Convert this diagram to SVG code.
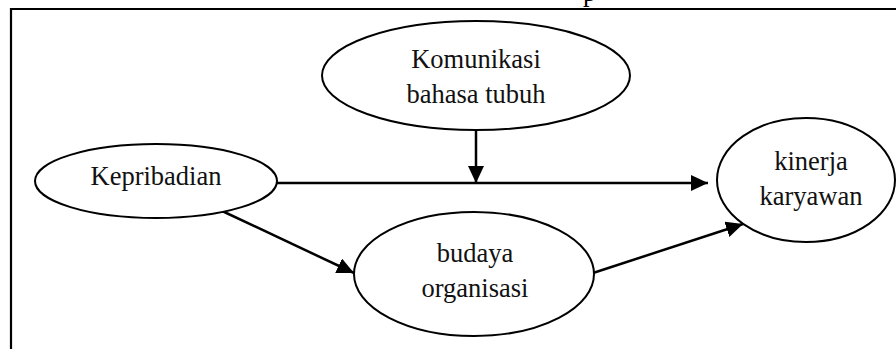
<svg xmlns="http://www.w3.org/2000/svg" width="896" height="349" viewBox="0 0 896 349">
<style>
.node ellipse{fill:#fff;stroke:#000;stroke-width:2}
.node text{font-family:"Liberation Serif","Times New Roman",serif;font-size:26.5px;fill:#111;text-anchor:middle}
.conn line{stroke:#000;stroke-width:2.5}
</style>
<defs>
<marker id="ah" markerUnits="userSpaceOnUse" markerWidth="18" markerHeight="16" refX="17" refY="8" orient="auto">
<path d="M0,0 L17,8 L0,16 Z" fill="#000"/>
</marker>
</defs>
<rect width="896" height="349" fill="#fff"/>
<text x="583" y="1" style="font-family:'Liberation Serif',serif;font-size:26.5px">p</text>
<path d="M11,349 V9 H896" fill="none" stroke="#000" stroke-width="2.2"/>
<g class="conn">
<line x1="277" y1="183" x2="708" y2="183" marker-end="url(#ah)"/>
<line x1="476" y1="130" x2="476" y2="183" marker-end="url(#ah)"/>
<line x1="220" y1="210" x2="354" y2="273" marker-end="url(#ah)"/>
<line x1="593" y1="273" x2="743" y2="224" marker-end="url(#ah)"/>
</g>
<g id="komunikasi" class="node">
<ellipse cx="476" cy="75.5" rx="154" ry="54.5"/>
<text x="476" y="68">Komunikasi</text>
<text x="476" y="103">bahasa tubuh</text>
</g>
<g id="kepribadian" class="node">
<ellipse cx="156" cy="181" rx="121" ry="37"/>
<text x="156" y="185">Kepribadian</text>
</g>
<g id="kinerja" class="node">
<ellipse cx="806" cy="180" rx="89" ry="62"/>
<text x="811" y="170">kinerja</text>
<text x="811" y="205">karyawan</text>
</g>
<g id="budaya" class="node">
<ellipse cx="474" cy="274" rx="120" ry="62"/>
<text x="475" y="262">budaya</text>
<text x="475" y="297">organisasi</text>
</g>
</svg>
